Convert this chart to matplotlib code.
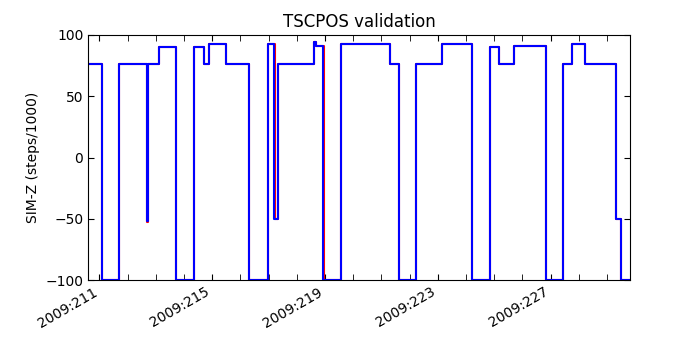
import matplotlib
matplotlib.use('Agg')
import matplotlib.pyplot as plt
import numpy as np

# day-of-year 2009 at each step change, and SIM-Z (steps/1000) from there on
t_blue = [210.6, 211.08, 211.70, 212.69, 212.72, 213.12, 213.71, 214.36, 214.72, 214.89,
          215.49, 216.31, 216.97, 217.20, 217.32, 218.61, 218.67, 218.94, 219.57, 221.31,
          221.61, 222.22, 223.16, 224.20, 224.85, 225.18, 225.71, 226.84, 227.43, 227.75,
          228.22, 229.32, 229.49, 229.9]
z_blue = [76, -100, 76, -52, 76, 90, -100, 90, 76, 93,
          76, -100, 93, -50, 76, 94, 91, -100, 93, 76,
          -100, 76, 93, -100, 90, 76, 91, -100, 76, 93,
          76, -50, -100, -100]

t_red = [210.6, 211.10, 211.71, 212.70, 212.73, 213.12, 213.72, 214.37, 214.72, 214.89,
         215.50, 216.32, 216.98, 217.21, 217.33, 218.61, 218.67, 218.95, 219.58, 221.32,
         221.62, 222.23, 223.16, 224.21, 224.86, 225.18, 225.71, 226.85, 227.44, 227.75,
         228.22, 229.33, 229.50, 229.9]
z_red = [76, -100, 76, -53, 76, 90, -100, 90, 76, 93,
         76, -100, 93, -50, 76, 94, 91, -100, 93, 76,
         -100, 76, 93, -100, 90, 76, 91, -100, 76, 93,
         76, -50, -100, -100]

day_ticks = list(range(211, 230))
label_days = [211, 215, 219, 223, 227]

fig = plt.figure(figsize=(7, 3.5), dpi=100)
ax = fig.add_subplot(111)
fig.subplots_adjust(left=0.126, right=0.9, bottom=0.2, top=0.9)

ax.step(t_red, z_red, where='post', color='r', lw=1.5)
ax.step(t_blue, z_blue, where='post', color='b', lw=1.5)

ax.set_xlim(210.6, 229.82)
ax.set_ylim(-100, 100)
ax.set_yticks([-100, -50, 0, 50, 100])
ax.set_xticks(label_days)
ax.set_xticklabels(['2009:%d' % d for d in label_days], rotation=30, ha='right')
ax.set_xticks(day_ticks, minor=True)
ax.tick_params(which='both', direction='in', top=True, right=True, length=4, labelsize=10)

ax.set_title('TSCPOS validation', fontsize=12)
ax.set_ylabel('SIM-Z (steps/1000)', fontsize=10)

fig.savefig('out.png', dpi=100)
